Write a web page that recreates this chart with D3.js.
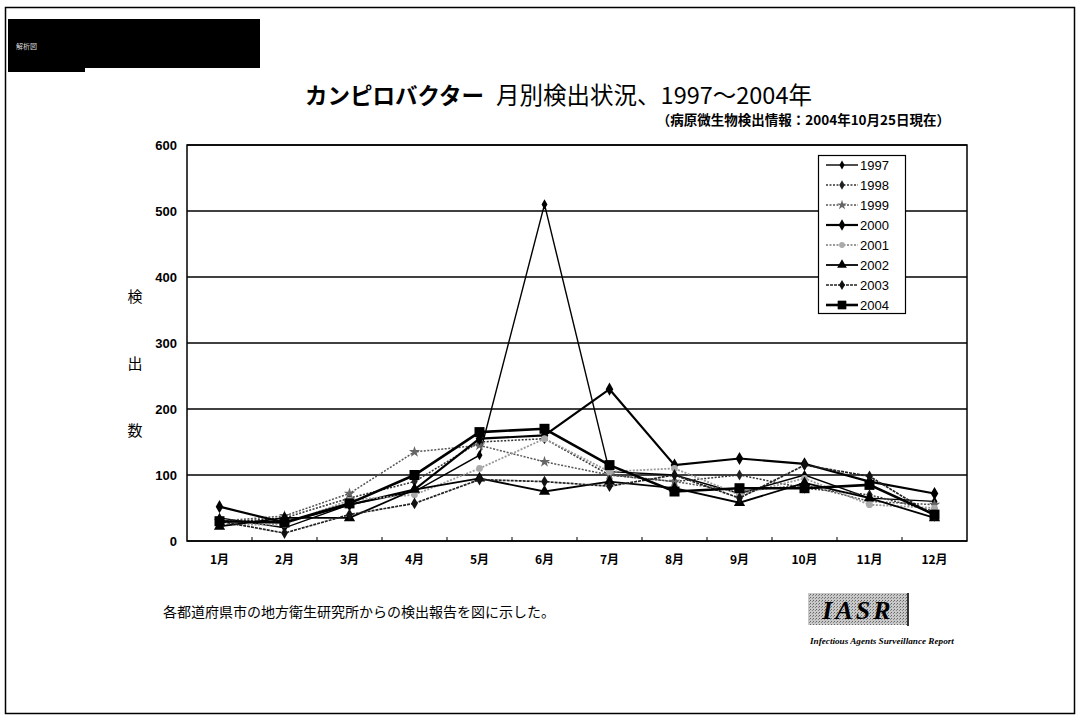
<!DOCTYPE html>
<html><head><meta charset="utf-8">
<script src="https://cdn.jsdelivr.net/npm/d3@7"></script>
<style>
html,body{margin:0;padding:0;background:#fff;}
svg{display:block;}
text{font-family:"Liberation Sans",Arial,sans-serif;}
text.jp{font-family:"Noto Sans CJK JP","Noto Sans",sans-serif;}
text.num{font-family:"Liberation Sans Narrow","Liberation Sans",Arial,sans-serif;}
text.serif{font-family:"Liberation Serif","Times New Roman",serif;}
</style></head>
<body>
<svg id="chart" width="1081" height="720"></svg>
<script>
// Monthly Campylobacter isolations, 1997–2004
const months = ["1月","2月","3月","4月","5月","6月","7月","8月","9月","10月","11月","12月"];
const yTicks = [0,100,200,300,400,500,600];
const years = ["1997","1998","1999","2000","2001","2002","2003","2004"];
const v1997 = [35, 20, 55, 75, 130, 510, 105, 100, 72, 100, 65, 60];
const v1998 = [28, 35, 65, 90, 150, 155, 100, 90, 100, 80, 70, 45];
const v1999 = [30, 38, 72, 135, 145, 120, 100, 90, 75, 85, 60, 55];
const v2000 = [52, 28, 55, 78, 155, 160, 230, 115, 125, 117, 90, 72];
const v2001 = [25, 25, 62, 70, 110, 155, 105, 110, 70, 95, 55, 50];
const v2002 = [22, 35, 35, 78, 95, 75, 90, 80, 58, 88, 65, 35];
const v2003 = [30, 12, 40, 57, 93, 90, 83, 100, 65, 115, 98, 38];
const v2004 = [30, 28, 57, 100, 165, 170, 115, 75, 80, 80, 85, 40];
const seriesValues = [v1997, v1998, v1999, v2000, v2001, v2002, v2003, v2004];

// line / marker style per year
const styles = [
  {stroke:"#000", width:1.4, dash:null, sym:d3.symbolDiamond, size:30, fill:"#000"},
  {stroke:"#333", width:1.5, dash:"2,1.5", sym:d3.symbolDiamond, size:35, fill:"#222"},
  {stroke:"#555", width:1.5, dash:"2,1.5", sym:d3.symbolStar, size:40, fill:"#666"},
  {stroke:"#000", width:2.2, dash:null, sym:d3.symbolDiamond, size:50, fill:"#000"},
  {stroke:"#999", width:1.8, dash:"2,1.5", sym:d3.symbolCircle, size:35, fill:"#aaa"},
  {stroke:"#000", width:1.8, dash:null, sym:d3.symbolTriangle, size:55, fill:"#000"},
  {stroke:"#222", width:1.7, dash:"3,1", sym:d3.symbolDiamond, size:40, fill:"#111"},
  {stroke:"#000", width:2.6, dash:null, sym:d3.symbolSquare, size:100, fill:"#000"}
];

const svg = d3.select("#chart");

// page frame
svg.append("rect").attr("x",5.5).attr("y",7.5).attr("width",1069).attr("height",706)
  .attr("fill","none").attr("stroke","#000").attr("stroke-width",1.5);

// dark header block
svg.append("path").attr("d","M8,19 H260 V68 H85 V72 H8 Z").attr("fill","#000");
svg.append("text").attr("class","jp").attr("x",16).attr("y",49)
  .attr("font-size",7).attr("fill","#ddd").text("解析図");

// title
const title = svg.append("text").attr("class","jp").attr("x",305).attr("y",104);
title.append("tspan").attr("font-size",22.5).attr("font-weight","bold").text("カンピロバクター");
title.append("tspan").attr("font-size",23.5).attr("dx",12).text("月別検出状況、1997〜2004年");
svg.append("text").attr("class","jp").attr("x",950).attr("y",125).attr("text-anchor","end")
  .attr("font-size",13.5).attr("font-weight","bold")
  .text("（病原微生物検出情報：2004年10月25日現在）");

// plot area
const plotL = 187, plotR = 967, plotT = 145, plotB = 541;
const x = d3.scaleBand().domain(months).range([plotL, plotR]);
const y = d3.scaleLinear().domain([0, 600]).range([plotB, plotT]);

// horizontal gridlines
svg.append("g").selectAll("line").data(yTicks).join("line")
  .attr("x1",plotL).attr("x2",plotR)
  .attr("y1",d=>y(d)).attr("y2",d=>y(d))
  .attr("stroke","#000").attr("stroke-width",1.5);
svg.append("rect").attr("x",plotL).attr("y",plotT).attr("width",plotR-plotL).attr("height",plotB-plotT)
  .attr("fill","none").attr("stroke","#000").attr("stroke-width",1.5);

// y axis
const yAxis = svg.append("g").attr("transform",`translate(${plotL},0)`)
  .call(d3.axisLeft(y).tickValues(yTicks).tickSize(0).tickPadding(10));
yAxis.select(".domain").remove();
yAxis.selectAll("text").attr("class","num").attr("font-size",13).attr("font-weight","bold");

// x axis
const xAxis = svg.append("g").attr("transform",`translate(0,${plotB})`)
  .call(d3.axisBottom(x).tickSize(0).tickPadding(14));
xAxis.select(".domain").remove();
xAxis.selectAll("text").attr("class","jp").attr("font-size",12).attr("font-weight","bold");
// category boundary ticks
svg.append("g").selectAll("line").data(months.slice(1)).join("line")
  .attr("x1",d=>x(d)).attr("x2",d=>x(d))
  .attr("y1",plotB).attr("y2",plotB-4)
  .attr("stroke","#000").attr("stroke-width",1);

// y axis title
["検","出","数"].forEach((c,i)=>{
  svg.append("text").attr("class","jp").attr("x",135).attr("y",302+i*67)
    .attr("text-anchor","middle").attr("font-size",15).text(c);
});

// series lines and markers
const line = d3.line().x((d,i)=>x(months[i])+x.bandwidth()/2).y(d=>y(d));
const gSeries = svg.append("g");
seriesValues.forEach((vals,k)=>{
  const s = styles[k];
  const g = gSeries.append("g");
  g.append("path").attr("d",line(vals)).attr("fill","none")
    .attr("stroke",s.stroke).attr("stroke-width",s.width)
    .attr("stroke-dasharray",s.dash);
  g.selectAll("path.m").data(vals).join("path").attr("class","m")
    .attr("transform",(d,i)=>`translate(${x(months[i])+x.bandwidth()/2},${y(d)})`)
    .attr("d",d3.symbol().type(s.sym).size(s.size))
    .attr("fill",s.fill);
});

// legend
const lg = svg.append("g");
lg.append("rect").attr("x",818.5).attr("y",155.5).attr("width",87).attr("height",158)
  .attr("fill","#fff").attr("stroke","#000").attr("stroke-width",1.2);
years.forEach((yr,k)=>{
  const s = styles[k];
  const cy = 165 + k*20;
  lg.append("line").attr("x1",826).attr("x2",858).attr("y1",cy).attr("y2",cy)
    .attr("stroke",s.stroke).attr("stroke-width",s.width).attr("stroke-dasharray",s.dash);
  lg.append("path").attr("transform",`translate(842,${cy})`)
    .attr("d",d3.symbol().type(s.sym).size(s.size*0.75)).attr("fill",s.fill);
  lg.append("text").attr("class","num").attr("x",860).attr("y",cy+5).attr("font-size",13)
    .text(yr);
});

// note
svg.append("text").attr("class","jp").attr("x",163).attr("y",617).attr("font-size",14)
  .text("各都道府県市の地方衛生研究所からの検出報告を図に示した。");

// IASR mark
const defs = svg.append("defs");
const pat = defs.append("pattern").attr("id","stipple").attr("width",3).attr("height",3)
  .attr("patternUnits","userSpaceOnUse");
pat.append("rect").attr("width",3).attr("height",3).attr("fill","#c8c8c8");
pat.append("rect").attr("width",1).attr("height",1).attr("fill","#666");
pat.append("rect").attr("x",2).attr("y",1).attr("width",1).attr("height",1).attr("fill","#888");
svg.append("rect").attr("x",808).attr("y",593).attr("width",100).attr("height",32)
  .attr("fill","url(#stipple)");
svg.append("line").attr("x1",908).attr("x2",908).attr("y1",593).attr("y2",626)
  .attr("stroke","#333").attr("stroke-width",2);
svg.append("text").attr("class","serif").attr("x",858).attr("y",619).attr("text-anchor","middle")
  .attr("font-size",26).attr("font-weight","bold").attr("font-style","italic")
  .attr("letter-spacing",3).text("IASR");
svg.append("text").attr("class","serif").attr("x",810).attr("y",644)
  .attr("font-size",9.2).attr("font-weight","bold").attr("font-style","italic")
  .text("Infectious Agents Surveillance Report");
</script>
</body></html>
